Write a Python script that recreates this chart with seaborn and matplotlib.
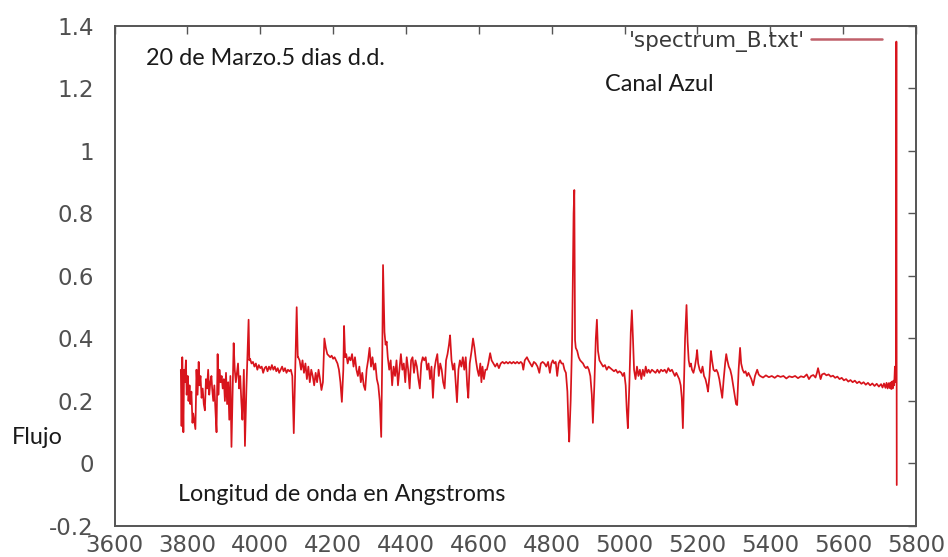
import matplotlib
matplotlib.use("Agg")
import matplotlib.pyplot as plt
import seaborn as sns
import pandas as pd

# Wavelength (Angstrom) and relative flux of the blue-channel spectrum
wavelength = [
    3782, 3784, 3786, 3789, 3791, 3793, 3796, 3798, 3801, 3803, 3806, 3808, 3811, 3814, 3816,
    3822, 3825, 3828, 3831, 3833, 3836, 3839, 3842, 3845, 3848, 3851, 3854, 3857, 3860, 3863,
    3866, 3868, 3871, 3874, 3877, 3880, 3883, 3885, 3888, 3891, 3894, 3897, 3900, 3903, 3906,
    3909, 3912, 3915, 3918, 3921, 3924, 3927, 3930, 3933, 3936, 3939, 3942, 3945, 3948, 3951,
    3955, 3958, 3962, 3968, 3970,
    3972, 3976, 3980, 3984, 3988, 3992, 3996, 4000, 4004, 4008, 4012, 4016, 4020, 4024, 4028,
    4032, 4036, 4040, 4044, 4048, 4052, 4056, 4060, 4064, 4068, 4072, 4076, 4080, 4084, 4088,
    4092, 4096, 4100, 4103,
    4104, 4108, 4112, 4116, 4120, 4124, 4128, 4132, 4136, 4140, 4144, 4148, 4152, 4156, 4160,
    4164, 4168, 4172, 4176, 4180, 4184, 4188, 4192, 4196, 4200, 4204, 4208, 4212, 4216, 4220,
    4224, 4228, 4230, 4233, 4236, 4240, 4244, 4248, 4252, 4256, 4260, 4264, 4268, 4272, 4276,
    4280, 4284, 4288, 4292, 4296, 4300, 4304, 4308, 4312, 4316, 4320, 4324, 4328, 4332, 4335,
    4337, 4339, 4341, 4344, 4347,
    4350, 4354, 4358, 4362, 4366, 4370, 4374, 4378, 4382, 4386, 4390, 4394, 4398, 4402, 4406,
    4410, 4414, 4418, 4422, 4426, 4430, 4434, 4438, 4442, 4446, 4450, 4454, 4458, 4462, 4466,
    4470, 4474, 4478, 4482, 4486, 4490, 4494, 4498, 4502, 4506, 4510, 4514, 4518, 4521, 4525,
    4529, 4533, 4537, 4540, 4544, 4548, 4552, 4556, 4560, 4564, 4568, 4571, 4575, 4580, 4584,
    4588, 4592, 4596, 4600, 4604, 4607, 4610, 4614, 4618,
    4622, 4626, 4631, 4635, 4640, 4645, 4650, 4655, 4660, 4665, 4670, 4675, 4680, 4685, 4690,
    4695, 4700, 4705, 4710, 4715, 4719, 4722, 4726, 4732, 4736, 4741, 4746, 4751, 4756, 4761,
    4766, 4770, 4775, 4780, 4785, 4790, 4795, 4799, 4803, 4807, 4811, 4815, 4819, 4823, 4827,
    4831, 4835, 4839, 4843, 4846, 4848, 4852, 4856, 4860, 4862, 4864, 4866, 4870, 4874, 4878,
    4882, 4886, 4890, 4894, 4898, 4902, 4906, 4910, 4913, 4917, 4921, 4924, 4927, 4931, 4936,
    4941, 4946, 4951, 4956, 4961, 4966, 4971, 4976, 4981, 4986, 4991, 4995, 4999, 5003, 5006,
    5009, 5013, 5017, 5020, 5023, 5026, 5030, 5034, 5038, 5042, 5046, 5050, 5054, 5058, 5062,
    5066,
    5070, 5075, 5080, 5085, 5090, 5095, 5100, 5105, 5110, 5115, 5120, 5125, 5130, 5134, 5138,
    5142, 5146, 5150, 5154, 5157, 5160, 5163, 5166, 5170, 5173, 5176, 5179, 5182,
    5185, 5189, 5193, 5197, 5199, 5202, 5206, 5210, 5214, 5218, 5222, 5226, 5229, 5233, 5237,
    5240, 5244, 5248, 5252, 5256, 5260, 5264, 5268, 5272, 5276, 5279, 5282, 5286, 5290, 5294,
    5298, 5302, 5306, 5309, 5313, 5317, 5320, 5324, 5328, 5332, 5336, 5340, 5344, 5348, 5353,
    5358, 5364, 5368,
    5372, 5380, 5388, 5396, 5404, 5412, 5420, 5428, 5436, 5444, 5452, 5460, 5468, 5476, 5484,
    5492, 5500, 5506, 5512, 5518, 5524, 5528, 5531, 5534, 5538, 5542, 5548, 5554, 5560, 5566,
    5572, 5578, 5584, 5590, 5596, 5602, 5608, 5614, 5620, 5626, 5632, 5638, 5644, 5650, 5656,
    5662, 5668, 5674, 5680, 5686, 5692, 5698, 5704, 5708, 5712, 5716, 5719, 5722, 5725, 5728,
    5730, 5732, 5734, 5736, 5738, 5740, 5742, 5744, 5745, 5746, 5747,
]

flux = [
    0.30, 0.12, 0.34, 0.10, 0.30, 0.26, 0.33, 0.22, 0.28, 0.20, 0.25, 0.19, 0.23, 0.13, 0.16,
    0.11, 0.30, 0.22, 0.325, 0.25, 0.28, 0.21, 0.24, 0.19, 0.17, 0.27, 0.24, 0.30, 0.22, 0.26,
    0.28, 0.24, 0.20, 0.25, 0.17, 0.10, 0.35, 0.22, 0.30, 0.26, 0.28, 0.24, 0.27, 0.20, 0.29,
    0.19, 0.26, 0.14, 0.28, 0.053, 0.22, 0.385, 0.30, 0.26, 0.29, 0.32, 0.24, 0.28, 0.20, 0.14,
    0.30, 0.056, 0.24, 0.46, 0.33,
    0.335, 0.32, 0.325, 0.31, 0.32, 0.30, 0.315, 0.305, 0.31, 0.29, 0.305, 0.31, 0.295, 0.31, 0.30,
    0.315, 0.30, 0.31, 0.295, 0.305, 0.29, 0.30, 0.31, 0.295, 0.305, 0.29, 0.30, 0.295, 0.30, 0.28,
    0.097, 0.30, 0.50, 0.34,
    0.34, 0.33, 0.30, 0.33, 0.29, 0.32, 0.27, 0.31, 0.26, 0.30, 0.28, 0.25, 0.29, 0.26, 0.30,
    0.27, 0.235, 0.26, 0.40, 0.37, 0.35, 0.345, 0.34, 0.345, 0.335, 0.34, 0.33, 0.32, 0.30, 0.26,
    0.197, 0.30, 0.44, 0.34, 0.35, 0.32, 0.34, 0.33, 0.35, 0.31, 0.34, 0.30, 0.28, 0.31, 0.26,
    0.29, 0.25, 0.235, 0.30, 0.33, 0.37, 0.31, 0.34, 0.30, 0.32, 0.27, 0.25, 0.20, 0.085, 0.36,
    0.635, 0.53, 0.42, 0.38, 0.39,
    0.34, 0.30, 0.33, 0.25, 0.31, 0.28, 0.33, 0.25, 0.30, 0.35, 0.30, 0.32, 0.26, 0.34, 0.30,
    0.24, 0.33, 0.34, 0.29, 0.33, 0.31, 0.27, 0.24, 0.32, 0.34, 0.33, 0.34, 0.30, 0.32, 0.27,
    0.31, 0.21, 0.30, 0.33, 0.35, 0.28, 0.32, 0.30, 0.26, 0.24, 0.33, 0.35, 0.38, 0.41, 0.33,
    0.30, 0.32, 0.25, 0.196, 0.30, 0.33, 0.31, 0.34, 0.30, 0.34, 0.25, 0.21, 0.32, 0.36, 0.40,
    0.37, 0.33, 0.30, 0.28, 0.32, 0.26, 0.31, 0.27, 0.30,
    0.30, 0.32, 0.353, 0.33, 0.32, 0.31, 0.32, 0.305, 0.32, 0.325, 0.32, 0.325, 0.32, 0.325, 0.32,
    0.325, 0.32, 0.325, 0.32, 0.325, 0.32, 0.30, 0.33, 0.34, 0.33, 0.32, 0.31, 0.325, 0.32, 0.31,
    0.29, 0.32, 0.325, 0.32, 0.31, 0.325, 0.29, 0.32, 0.33, 0.32, 0.325, 0.28, 0.32, 0.33, 0.32,
    0.32, 0.30, 0.29, 0.23, 0.12, 0.07, 0.20, 0.395, 0.80, 0.875, 0.395, 0.37, 0.36, 0.34, 0.33,
    0.325, 0.32, 0.31, 0.305, 0.31, 0.30, 0.28, 0.22, 0.13, 0.25, 0.40, 0.46, 0.36, 0.33, 0.32,
    0.31, 0.315, 0.30, 0.31, 0.305, 0.30, 0.295, 0.30, 0.29, 0.295, 0.29, 0.28, 0.29, 0.25, 0.17,
    0.113, 0.25, 0.42, 0.49, 0.40, 0.30, 0.27, 0.31, 0.28, 0.30, 0.27, 0.30, 0.28, 0.31, 0.29,
    0.30,
    0.29, 0.30, 0.295, 0.29, 0.30, 0.29, 0.30, 0.295, 0.30, 0.29, 0.305, 0.295, 0.30, 0.29, 0.28,
    0.29, 0.28, 0.27, 0.25, 0.21, 0.113, 0.25, 0.40, 0.507, 0.39, 0.33, 0.31, 0.32,
    0.30, 0.29, 0.31, 0.34, 0.363, 0.32, 0.30, 0.29, 0.31, 0.28, 0.27, 0.25, 0.23, 0.28, 0.36,
    0.33, 0.30, 0.295, 0.30, 0.29, 0.27, 0.24, 0.21, 0.27, 0.32, 0.35, 0.33, 0.31, 0.30, 0.28,
    0.25, 0.22, 0.19, 0.187, 0.30, 0.37, 0.32, 0.30, 0.29, 0.295, 0.28, 0.29, 0.28, 0.27, 0.25,
    0.28, 0.30, 0.285,
    0.28, 0.275, 0.282, 0.276, 0.28, 0.274, 0.281, 0.277, 0.28, 0.272, 0.279, 0.276, 0.28, 0.273, 0.279,
    0.276, 0.285, 0.27, 0.28, 0.283, 0.275, 0.29, 0.305, 0.29, 0.27, 0.285, 0.288, 0.282, 0.285, 0.278,
    0.281, 0.274, 0.278, 0.27, 0.274, 0.266, 0.27, 0.262, 0.267, 0.26, 0.265, 0.257, 0.262, 0.255, 0.26,
    0.252, 0.258, 0.25, 0.256, 0.248, 0.255, 0.246, 0.254, 0.243, 0.256, 0.242, 0.258, 0.24, 0.257, 0.241,
    0.259, 0.238, 0.262, 0.24, 0.265, 0.25, 0.31, 0.26, 0.30, 1.35, -0.069,
]

x_ticks = [3600, 3800, 4000, 4200, 4400, 4600, 4800, 5000, 5200, 5400, 5600, 5800]
y_ticks = [-0.2, 0, 0.2, 0.4, 0.6, 0.8, 1.0, 1.2, 1.4]
y_tick_labels = ["-0.2", "0", "0.2", "0.4", "0.6", "0.8", "1", "1.2", "1.4"]

series_label = "'spectrum_B.txt'"
line_color = "#d8141c"

spectrum = pd.DataFrame({"wavelength": wavelength, "flux": flux, "source": series_label})

sns.set_theme(style="white")
plt.rcParams["font.family"] = ["DejaVu Sans"]

fig = plt.figure(figsize=(9.48, 5.57), dpi=100)
ax = fig.add_axes([0.1208, 0.0557, 0.8455, 0.8977])

sns.lineplot(
    data=spectrum, x="wavelength", y="flux", hue="source",
    palette=[line_color], sort=False, estimator=None,
    linewidth=1.25, ax=ax,
)

ax.set_xlim(3600, 5800)
ax.set_ylim(-0.2, 1.4)
ax.set_xticks(x_ticks)
ax.set_yticks(y_ticks)
ax.set_yticklabels(y_tick_labels)
ax.set_xlabel("")
ax.set_ylabel("")

tick_color = "#505050"
ax.tick_params(axis="both", which="major", direction="in", length=6, width=1.0,
               color="#555555", labelsize=16.5, labelcolor=tick_color,
               top=True, right=True)
ax.tick_params(axis="x", pad=6)
ax.tick_params(axis="y", pad=15)
for side in ["left", "right", "top", "bottom"]:
    ax.spines[side].set_visible(True)
    ax.spines[side].set_color("#555555")
    ax.spines[side].set_linewidth(1.4)

# gnuplot-style key: label on the left, sample line on the right
handles, labels = ax.get_legend_handles_labels()
ax.legend(handles, labels, loc="upper right", bbox_to_anchor=(0.958, 0.99),
          frameon=False, markerfirst=False, handlelength=3.3, handletextpad=0.3,
          prop={"family": "DejaVu Sans", "size": 15.5}, labelcolor="#3a3a3a",
          borderaxespad=0.0, borderpad=0.0)
for h in ax.get_legend().legend_handles:
    h.set_color("#c0606a")
    h.set_linewidth(1.8)

note_font = {"family": ["Lato", "DejaVu Sans"], "size": 16.8, "color": "#1a1a1a"}
ax.text(0.039, 0.935, "20 de Marzo.5 dias d.d.", transform=ax.transAxes,
        ha="left", va="center", fontdict=note_font)
ax.text(0.612, 0.883, "Canal Azul", transform=ax.transAxes,
        ha="left", va="center", fontdict=note_font)
ax.text(0.079, 0.062, "Longitud de onda en Angstroms", transform=ax.transAxes,
        ha="left", va="center", fontdict=note_font)
fig.text(0.0125, (557 - 437) / 557, "Flujo", ha="left", va="center", fontdict=note_font)

fig.savefig("out.png", dpi=100, facecolor="white")
